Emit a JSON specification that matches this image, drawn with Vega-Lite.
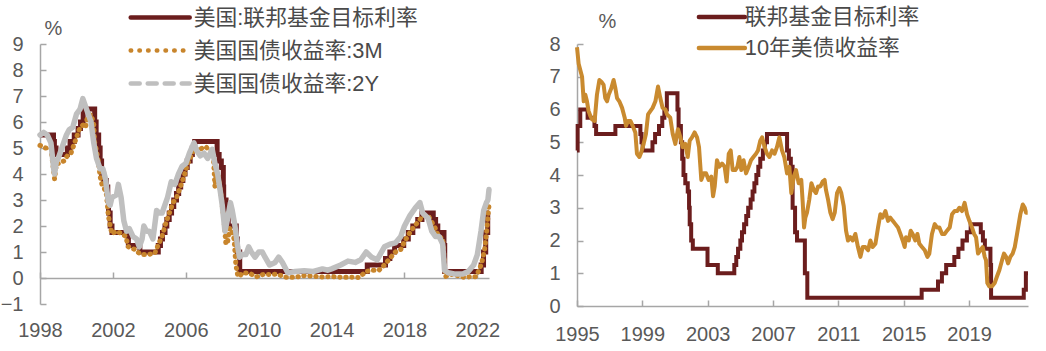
{
  "$schema": "https://vega.github.io/schema/vega-lite/v6.json",
  "padding": {"left": 0, "top": 5, "right": 0, "bottom": 0},
  "background": "white",
  "spacing": 48,
  "config": {
    "view": {"stroke": null},
    "font": "Liberation Sans, Noto Sans CJK SC",
    "axis": {"labelFont": "Liberation Sans", "labelFontSize": 20, "labelColor": "#595959", "domainColor": "#A6A6A6", "tickColor": "#A6A6A6", "domainWidth": 1.5, "tickWidth": 1.5, "grid": false, "tickSize": -6, "titleFont": "Liberation Sans", "titleFontSize": 20, "titleColor": "#595959", "titleFontWeight": "normal", "labelFlush": false, "labelOverlap": false},
    "legend": {"labelFont": "Liberation Sans, Noto Sans CJK SC", "labelFontSize": 21.8, "labelColor": "#4a4a4a", "padding": 0, "title": null}
  },
  "datasets": {
    "left": [
      {"s": "美国:联邦基金目标利率", "t": 1998.0, "v": 5.5},
      {"s": "美国:联邦基金目标利率", "t": 1998.74, "v": 5.25},
      {"s": "美国:联邦基金目标利率", "t": 1998.79, "v": 5.0},
      {"s": "美国:联邦基金目标利率", "t": 1998.88, "v": 4.75},
      {"s": "美国:联邦基金目标利率", "t": 1999.5, "v": 5.0},
      {"s": "美国:联邦基金目标利率", "t": 1999.65, "v": 5.25},
      {"s": "美国:联邦基金目标利率", "t": 1999.88, "v": 5.5},
      {"s": "美国:联邦基金目标利率", "t": 2000.09, "v": 5.75},
      {"s": "美国:联邦基金目标利率", "t": 2000.22, "v": 6.0},
      {"s": "美国:联邦基金目标利率", "t": 2000.37, "v": 6.5},
      {"s": "美国:联邦基金目标利率", "t": 2001.0, "v": 6.0},
      {"s": "美国:联邦基金目标利率", "t": 2001.08, "v": 5.5},
      {"s": "美国:联邦基金目标利率", "t": 2001.22, "v": 5.0},
      {"s": "美国:联邦基金目标利率", "t": 2001.3, "v": 4.5},
      {"s": "美国:联邦基金目标利率", "t": 2001.38, "v": 4.0},
      {"s": "美国:联邦基金目标利率", "t": 2001.49, "v": 3.75},
      {"s": "美国:联邦基金目标利率", "t": 2001.64, "v": 3.5},
      {"s": "美国:联邦基金目标利率", "t": 2001.72, "v": 3.0},
      {"s": "美国:联邦基金目标利率", "t": 2001.76, "v": 2.5},
      {"s": "美国:联邦基金目标利率", "t": 2001.85, "v": 2.0},
      {"s": "美国:联邦基金目标利率", "t": 2001.95, "v": 1.75},
      {"s": "美国:联邦基金目标利率", "t": 2002.85, "v": 1.25},
      {"s": "美国:联邦基金目标利率", "t": 2003.48, "v": 1.0},
      {"s": "美国:联邦基金目标利率", "t": 2004.49, "v": 1.25},
      {"s": "美国:联邦基金目标利率", "t": 2004.61, "v": 1.5},
      {"s": "美国:联邦基金目标利率", "t": 2004.72, "v": 1.75},
      {"s": "美国:联邦基金目标利率", "t": 2004.86, "v": 2.0},
      {"s": "美国:联邦基金目标利率", "t": 2004.96, "v": 2.25},
      {"s": "美国:联邦基金目标利率", "t": 2005.09, "v": 2.5},
      {"s": "美国:联邦基金目标利率", "t": 2005.22, "v": 2.75},
      {"s": "美国:联邦基金目标利率", "t": 2005.34, "v": 3.0},
      {"s": "美国:联邦基金目标利率", "t": 2005.49, "v": 3.25},
      {"s": "美国:联邦基金目标利率", "t": 2005.61, "v": 3.5},
      {"s": "美国:联邦基金目标利率", "t": 2005.72, "v": 3.75},
      {"s": "美国:联邦基金目标利率", "t": 2005.84, "v": 4.0},
      {"s": "美国:联邦基金目标利率", "t": 2005.96, "v": 4.25},
      {"s": "美国:联邦基金目标利率", "t": 2006.08, "v": 4.5},
      {"s": "美国:联邦基金目标利率", "t": 2006.24, "v": 4.75},
      {"s": "美国:联邦基金目标利率", "t": 2006.36, "v": 5.0},
      {"s": "美国:联邦基金目标利率", "t": 2006.49, "v": 5.25},
      {"s": "美国:联邦基金目标利率", "t": 2007.72, "v": 4.75},
      {"s": "美国:联邦基金目标利率", "t": 2007.83, "v": 4.5},
      {"s": "美国:联邦基金目标利率", "t": 2007.95, "v": 4.25},
      {"s": "美国:联邦基金目标利率", "t": 2008.06, "v": 3.5},
      {"s": "美国:联邦基金目标利率", "t": 2008.08, "v": 3.0},
      {"s": "美国:联邦基金目标利率", "t": 2008.21, "v": 2.25},
      {"s": "美国:联邦基金目标利率", "t": 2008.33, "v": 2.0},
      {"s": "美国:联邦基金目标利率", "t": 2008.77, "v": 1.5},
      {"s": "美国:联邦基金目标利率", "t": 2008.83, "v": 1.0},
      {"s": "美国:联邦基金目标利率", "t": 2008.96, "v": 0.25},
      {"s": "美国:联邦基金目标利率", "t": 2015.96, "v": 0.5},
      {"s": "美国:联邦基金目标利率", "t": 2016.96, "v": 0.75},
      {"s": "美国:联邦基金目标利率", "t": 2017.2, "v": 1.0},
      {"s": "美国:联邦基金目标利率", "t": 2017.46, "v": 1.25},
      {"s": "美国:联邦基金目标利率", "t": 2017.96, "v": 1.5},
      {"s": "美国:联邦基金目标利率", "t": 2018.21, "v": 1.75},
      {"s": "美国:联邦基金目标利率", "t": 2018.46, "v": 2.0},
      {"s": "美国:联邦基金目标利率", "t": 2018.73, "v": 2.25},
      {"s": "美国:联邦基金目标利率", "t": 2018.96, "v": 2.5},
      {"s": "美国:联邦基金目标利率", "t": 2019.58, "v": 2.25},
      {"s": "美国:联邦基金目标利率", "t": 2019.71, "v": 2.0},
      {"s": "美国:联邦基金目标利率", "t": 2019.83, "v": 1.75},
      {"s": "美国:联邦基金目标利率", "t": 2020.17, "v": 1.25},
      {"s": "美国:联邦基金目标利率", "t": 2020.21, "v": 0.25},
      {"s": "美国:联邦基金目标利率", "t": 2022.21, "v": 0.5},
      {"s": "美国:联邦基金目标利率", "t": 2022.34, "v": 1.0},
      {"s": "美国:联邦基金目标利率", "t": 2022.46, "v": 1.75},
      {"s": "美国:联邦基金目标利率", "t": 2022.57, "v": 2.5},
      {"s": "美国:联邦基金目标利率", "t": 2022.64, "v": 2.5},

      {"s": "美国国债收益率:3M", "t": 1998.0, "v": 5.1},
      {"s": "美国国债收益率:3M", "t": 1998.3, "v": 5.0},
      {"s": "美国国债收益率:3M", "t": 1998.6, "v": 5.0},
      {"s": "美国国债收益率:3M", "t": 1998.8, "v": 3.8},
      {"s": "美国国债收益率:3M", "t": 1998.9, "v": 4.4},
      {"s": "美国国债收益率:3M", "t": 1999.0, "v": 4.4},
      {"s": "美国国债收益率:3M", "t": 1999.3, "v": 4.5},
      {"s": "美国国债收益率:3M", "t": 1999.5, "v": 4.7},
      {"s": "美国国债收益率:3M", "t": 1999.7, "v": 4.8},
      {"s": "美国国债收益率:3M", "t": 1999.9, "v": 5.2},
      {"s": "美国国债收益率:3M", "t": 2000.0, "v": 5.4},
      {"s": "美国国债收益率:3M", "t": 2000.2, "v": 5.8},
      {"s": "美国国债收益率:3M", "t": 2000.4, "v": 5.9},
      {"s": "美国国债收益率:3M", "t": 2000.5, "v": 5.8},
      {"s": "美国国债收益率:3M", "t": 2000.6, "v": 6.2},
      {"s": "美国国债收益率:3M", "t": 2000.8, "v": 6.3},
      {"s": "美国国债收益率:3M", "t": 2000.95, "v": 5.9},
      {"s": "美国国债收益率:3M", "t": 2001.0, "v": 5.2},
      {"s": "美国国债收益率:3M", "t": 2001.1, "v": 4.9},
      {"s": "美国国债收益率:3M", "t": 2001.2, "v": 4.5},
      {"s": "美国国债收益率:3M", "t": 2001.3, "v": 3.9},
      {"s": "美国国债收益率:3M", "t": 2001.4, "v": 3.6},
      {"s": "美国国债收益率:3M", "t": 2001.5, "v": 3.5},
      {"s": "美国国债收益率:3M", "t": 2001.65, "v": 3.2},
      {"s": "美国国债收益率:3M", "t": 2001.75, "v": 2.4},
      {"s": "美国国债收益率:3M", "t": 2001.85, "v": 2.0},
      {"s": "美国国债收益率:3M", "t": 2001.95, "v": 1.7},
      {"s": "美国国债收益率:3M", "t": 2002.2, "v": 1.8},
      {"s": "美国国债收益率:3M", "t": 2002.5, "v": 1.7},
      {"s": "美国国债收益率:3M", "t": 2002.7, "v": 1.6},
      {"s": "美国国债收益率:3M", "t": 2002.85, "v": 1.2},
      {"s": "美国国债收益率:3M", "t": 2003.2, "v": 1.1},
      {"s": "美国国债收益率:3M", "t": 2003.45, "v": 0.95},
      {"s": "美国国债收益率:3M", "t": 2003.6, "v": 0.9},
      {"s": "美国国债收益率:3M", "t": 2003.9, "v": 0.9},
      {"s": "美国国债收益率:3M", "t": 2004.3, "v": 0.95},
      {"s": "美国国债收益率:3M", "t": 2004.5, "v": 1.3},
      {"s": "美国国债收益率:3M", "t": 2004.7, "v": 1.6},
      {"s": "美国国债收益率:3M", "t": 2004.9, "v": 2.1},
      {"s": "美国国债收益率:3M", "t": 2005.1, "v": 2.5},
      {"s": "美国国债收益率:3M", "t": 2005.3, "v": 2.9},
      {"s": "美国国债收益率:3M", "t": 2005.5, "v": 3.1},
      {"s": "美国国债收益率:3M", "t": 2005.7, "v": 3.5},
      {"s": "美国国债收益率:3M", "t": 2005.9, "v": 3.9},
      {"s": "美国国债收益率:3M", "t": 2006.1, "v": 4.4},
      {"s": "美国国债收益率:3M", "t": 2006.3, "v": 4.7},
      {"s": "美国国债收益率:3M", "t": 2006.5, "v": 5.0},
      {"s": "美国国债收益率:3M", "t": 2006.7, "v": 4.9},
      {"s": "美国国债收益率:3M", "t": 2006.9, "v": 5.0},
      {"s": "美国国债收益率:3M", "t": 2007.1, "v": 5.05},
      {"s": "美国国债收益率:3M", "t": 2007.3, "v": 4.9},
      {"s": "美国国债收益率:3M", "t": 2007.5, "v": 4.85},
      {"s": "美国国债收益率:3M", "t": 2007.6, "v": 3.5},
      {"s": "美国国债收益率:3M", "t": 2007.65, "v": 4.0},
      {"s": "美国国债收益率:3M", "t": 2007.8, "v": 3.9},
      {"s": "美国国债收益率:3M", "t": 2007.95, "v": 3.1},
      {"s": "美国国债收益率:3M", "t": 2008.1, "v": 2.2},
      {"s": "美国国债收益率:3M", "t": 2008.2, "v": 1.3},
      {"s": "美国国债收益率:3M", "t": 2008.3, "v": 1.4},
      {"s": "美国国债收益率:3M", "t": 2008.4, "v": 1.9},
      {"s": "美国国债收益率:3M", "t": 2008.5, "v": 1.9},
      {"s": "美国国债收益率:3M", "t": 2008.65, "v": 1.5},
      {"s": "美国国债收益率:3M", "t": 2008.75, "v": 0.5},
      {"s": "美国国债收益率:3M", "t": 2008.85, "v": 0.1},
      {"s": "美国国债收益率:3M", "t": 2008.95, "v": 0.05},
      {"s": "美国国债收益率:3M", "t": 2009.1, "v": 0.2},
      {"s": "美国国债收益率:3M", "t": 2009.5, "v": 0.18},
      {"s": "美国国债收益率:3M", "t": 2009.9, "v": 0.05},
      {"s": "美国国债收益率:3M", "t": 2010.3, "v": 0.15},
      {"s": "美国国债收益率:3M", "t": 2010.7, "v": 0.13},
      {"s": "美国国债收益率:3M", "t": 2011.0, "v": 0.15},
      {"s": "美国国债收益率:3M", "t": 2011.5, "v": 0.03},
      {"s": "美国国债收益率:3M", "t": 2012.0, "v": 0.03},
      {"s": "美国国债收益率:3M", "t": 2012.5, "v": 0.09},
      {"s": "美国国债收益率:3M", "t": 2013.0, "v": 0.07},
      {"s": "美国国债收益率:3M", "t": 2013.5, "v": 0.04},
      {"s": "美国国债收益率:3M", "t": 2014.0, "v": 0.05},
      {"s": "美国国债收益率:3M", "t": 2014.5, "v": 0.03},
      {"s": "美国国债收益率:3M", "t": 2015.0, "v": 0.03},
      {"s": "美国国债收益率:3M", "t": 2015.5, "v": 0.02},
      {"s": "美国国债收益率:3M", "t": 2015.9, "v": 0.25},
      {"s": "美国国债收益率:3M", "t": 2016.2, "v": 0.3},
      {"s": "美国国债收益率:3M", "t": 2016.6, "v": 0.3},
      {"s": "美国国债收益率:3M", "t": 2016.9, "v": 0.5},
      {"s": "美国国债收益率:3M", "t": 2017.2, "v": 0.75},
      {"s": "美国国债收益率:3M", "t": 2017.5, "v": 1.0},
      {"s": "美国国债收益率:3M", "t": 2017.8, "v": 1.1},
      {"s": "美国国债收益率:3M", "t": 2018.0, "v": 1.4},
      {"s": "美国国债收益率:3M", "t": 2018.3, "v": 1.75},
      {"s": "美国国债收益率:3M", "t": 2018.5, "v": 1.95},
      {"s": "美国国债收益率:3M", "t": 2018.8, "v": 2.2},
      {"s": "美国国债收益率:3M", "t": 2019.0, "v": 2.4},
      {"s": "美国国债收益率:3M", "t": 2019.3, "v": 2.4},
      {"s": "美国国债收益率:3M", "t": 2019.5, "v": 2.15},
      {"s": "美国国债收益率:3M", "t": 2019.7, "v": 1.9},
      {"s": "美国国债收益率:3M", "t": 2019.9, "v": 1.55},
      {"s": "美国国债收益率:3M", "t": 2020.1, "v": 1.55},
      {"s": "美国国债收益率:3M", "t": 2020.2, "v": 0.5},
      {"s": "美国国债收益率:3M", "t": 2020.25, "v": 0.05},
      {"s": "美国国债收益率:3M", "t": 2020.5, "v": 0.15},
      {"s": "美国国债收益率:3M", "t": 2020.8, "v": 0.1},
      {"s": "美国国债收益率:3M", "t": 2021.0, "v": 0.08},
      {"s": "美国国债收益率:3M", "t": 2021.3, "v": 0.02},
      {"s": "美国国债收益率:3M", "t": 2021.6, "v": 0.05},
      {"s": "美国国债收益率:3M", "t": 2021.9, "v": 0.05},
      {"s": "美国国债收益率:3M", "t": 2022.1, "v": 0.3},
      {"s": "美国国债收益率:3M", "t": 2022.25, "v": 0.6},
      {"s": "美国国债收益率:3M", "t": 2022.4, "v": 1.1},
      {"s": "美国国债收益率:3M", "t": 2022.5, "v": 1.7},
      {"s": "美国国债收益率:3M", "t": 2022.6, "v": 2.5},
      {"s": "美国国债收益率:3M", "t": 2022.64, "v": 2.8},

      {"s": "美国国债收益率:2Y", "t": 1998.0, "v": 5.5},
      {"s": "美国国债收益率:2Y", "t": 1998.2, "v": 5.6},
      {"s": "美国国债收益率:2Y", "t": 1998.4, "v": 5.5},
      {"s": "美国国债收益率:2Y", "t": 1998.6, "v": 5.2},
      {"s": "美国国债收益率:2Y", "t": 1998.75, "v": 4.2},
      {"s": "美国国债收益率:2Y", "t": 1998.8, "v": 4.0},
      {"s": "美国国债收益率:2Y", "t": 1998.9, "v": 4.5},
      {"s": "美国国债收益率:2Y", "t": 1999.0, "v": 4.6},
      {"s": "美国国债收益率:2Y", "t": 1999.2, "v": 5.0},
      {"s": "美国国债收益率:2Y", "t": 1999.45, "v": 5.5},
      {"s": "美国国债收益率:2Y", "t": 1999.6, "v": 5.7},
      {"s": "美国国债收益率:2Y", "t": 1999.8, "v": 5.8},
      {"s": "美国国债收益率:2Y", "t": 2000.0, "v": 6.3},
      {"s": "美国国债收益率:2Y", "t": 2000.2, "v": 6.5},
      {"s": "美国国债收益率:2Y", "t": 2000.35, "v": 6.9},
      {"s": "美国国债收益率:2Y", "t": 2000.45, "v": 6.7},
      {"s": "美国国债收益率:2Y", "t": 2000.6, "v": 6.4},
      {"s": "美国国债收益率:2Y", "t": 2000.8, "v": 6.0},
      {"s": "美国国债收益率:2Y", "t": 2000.95, "v": 5.2},
      {"s": "美国国债收益率:2Y", "t": 2001.1, "v": 4.6},
      {"s": "美国国债收益率:2Y", "t": 2001.3, "v": 4.2},
      {"s": "美国国债收益率:2Y", "t": 2001.45, "v": 4.2},
      {"s": "美国国债收益率:2Y", "t": 2001.6, "v": 3.8},
      {"s": "美国国债收益率:2Y", "t": 2001.75, "v": 2.9},
      {"s": "美国国债收益率:2Y", "t": 2001.85, "v": 2.8},
      {"s": "美国国债收益率:2Y", "t": 2001.95, "v": 3.1},
      {"s": "美国国债收益率:2Y", "t": 2002.2, "v": 3.2},
      {"s": "美国国债收益率:2Y", "t": 2002.3, "v": 3.6},
      {"s": "美国国债收益率:2Y", "t": 2002.45, "v": 3.1},
      {"s": "美国国债收益率:2Y", "t": 2002.6, "v": 2.2},
      {"s": "美国国债收益率:2Y", "t": 2002.75, "v": 1.8},
      {"s": "美国国债收益率:2Y", "t": 2002.9, "v": 1.9},
      {"s": "美国国债收益率:2Y", "t": 2003.1, "v": 1.6},
      {"s": "美国国债收益率:2Y", "t": 2003.3, "v": 1.5},
      {"s": "美国国债收益率:2Y", "t": 2003.45, "v": 1.2},
      {"s": "美国国债收益率:2Y", "t": 2003.6, "v": 1.5},
      {"s": "美国国债收益率:2Y", "t": 2003.7, "v": 2.0},
      {"s": "美国国债收益率:2Y", "t": 2003.85, "v": 1.8},
      {"s": "美国国债收益率:2Y", "t": 2004.0, "v": 1.8},
      {"s": "美国国债收益率:2Y", "t": 2004.2, "v": 1.5},
      {"s": "美国国债收益率:2Y", "t": 2004.4, "v": 2.6},
      {"s": "美国国债收益率:2Y", "t": 2004.55, "v": 2.5},
      {"s": "美国国债收益率:2Y", "t": 2004.7, "v": 2.5},
      {"s": "美国国债收益率:2Y", "t": 2004.85, "v": 2.8},
      {"s": "美国国债收益率:2Y", "t": 2005.0, "v": 3.1},
      {"s": "美国国债收益率:2Y", "t": 2005.2, "v": 3.7},
      {"s": "美国国债收益率:2Y", "t": 2005.4, "v": 3.6},
      {"s": "美国国债收益率:2Y", "t": 2005.6, "v": 4.0},
      {"s": "美国国债收益率:2Y", "t": 2005.8, "v": 4.3},
      {"s": "美国国债收益率:2Y", "t": 2006.0, "v": 4.4},
      {"s": "美国国债收益率:2Y", "t": 2006.2, "v": 4.8},
      {"s": "美国国债收益率:2Y", "t": 2006.45, "v": 5.2},
      {"s": "美国国债收益率:2Y", "t": 2006.6, "v": 4.9},
      {"s": "美国国债收益率:2Y", "t": 2006.8, "v": 4.7},
      {"s": "美国国债收益率:2Y", "t": 2007.0, "v": 4.8},
      {"s": "美国国债收益率:2Y", "t": 2007.2, "v": 4.6},
      {"s": "美国国债收益率:2Y", "t": 2007.45, "v": 4.95},
      {"s": "美国国债收益率:2Y", "t": 2007.6, "v": 4.4},
      {"s": "美国国债收益率:2Y", "t": 2007.75, "v": 4.0},
      {"s": "美国国债收益率:2Y", "t": 2007.9, "v": 3.3},
      {"s": "美国国债收益率:2Y", "t": 2008.0, "v": 2.8},
      {"s": "美国国债收益率:2Y", "t": 2008.15, "v": 1.8},
      {"s": "美国国债收益率:2Y", "t": 2008.3, "v": 2.3},
      {"s": "美国国债收益率:2Y", "t": 2008.45, "v": 2.9},
      {"s": "美国国债收益率:2Y", "t": 2008.55, "v": 2.6},
      {"s": "美国国债收益率:2Y", "t": 2008.7, "v": 2.0},
      {"s": "美国国债收益率:2Y", "t": 2008.85, "v": 1.2},
      {"s": "美国国债收益率:2Y", "t": 2008.95, "v": 0.8},
      {"s": "美国国债收益率:2Y", "t": 2009.1, "v": 0.9},
      {"s": "美国国债收益率:2Y", "t": 2009.3, "v": 0.9},
      {"s": "美国国债收益率:2Y", "t": 2009.45, "v": 1.2},
      {"s": "美国国债收益率:2Y", "t": 2009.6, "v": 1.0},
      {"s": "美国国债收益率:2Y", "t": 2009.8, "v": 0.8},
      {"s": "美国国债收益率:2Y", "t": 2010.0, "v": 1.0},
      {"s": "美国国债收益率:2Y", "t": 2010.2, "v": 1.0},
      {"s": "美国国债收益率:2Y", "t": 2010.35, "v": 0.8},
      {"s": "美国国债收益率:2Y", "t": 2010.6, "v": 0.5},
      {"s": "美国国债收益率:2Y", "t": 2010.9, "v": 0.6},
      {"s": "美国国债收益率:2Y", "t": 2011.1, "v": 0.8},
      {"s": "美国国债收益率:2Y", "t": 2011.3, "v": 0.6},
      {"s": "美国国债收益率:2Y", "t": 2011.6, "v": 0.2},
      {"s": "美国国债收益率:2Y", "t": 2012.0, "v": 0.25},
      {"s": "美国国债收益率:2Y", "t": 2012.5, "v": 0.28},
      {"s": "美国国债收益率:2Y", "t": 2013.0, "v": 0.25},
      {"s": "美国国债收益率:2Y", "t": 2013.5, "v": 0.35},
      {"s": "美国国债收益率:2Y", "t": 2013.8, "v": 0.3},
      {"s": "美国国债收益率:2Y", "t": 2014.0, "v": 0.35},
      {"s": "美国国债收益率:2Y", "t": 2014.5, "v": 0.5},
      {"s": "美国国债收益率:2Y", "t": 2014.9, "v": 0.65},
      {"s": "美国国债收益率:2Y", "t": 2015.3, "v": 0.6},
      {"s": "美国国债收益率:2Y", "t": 2015.6, "v": 0.7},
      {"s": "美国国债收益率:2Y", "t": 2015.9, "v": 1.0},
      {"s": "美国国债收益率:2Y", "t": 2016.2, "v": 0.8},
      {"s": "美国国债收益率:2Y", "t": 2016.5, "v": 0.7},
      {"s": "美国国债收益率:2Y", "t": 2016.9, "v": 1.2},
      {"s": "美国国债收益率:2Y", "t": 2017.2, "v": 1.3},
      {"s": "美国国债收益率:2Y", "t": 2017.5, "v": 1.35},
      {"s": "美国国债收益率:2Y", "t": 2017.8, "v": 1.6},
      {"s": "美国国债收益率:2Y", "t": 2018.0, "v": 2.0},
      {"s": "美国国债收益率:2Y", "t": 2018.3, "v": 2.4},
      {"s": "美国国债收益率:2Y", "t": 2018.6, "v": 2.7},
      {"s": "美国国债收益率:2Y", "t": 2018.85, "v": 2.9},
      {"s": "美国国债收益率:2Y", "t": 2019.0, "v": 2.5},
      {"s": "美国国债收益率:2Y", "t": 2019.3, "v": 2.3},
      {"s": "美国国债收益率:2Y", "t": 2019.5, "v": 1.8},
      {"s": "美国国债收益率:2Y", "t": 2019.7, "v": 1.6},
      {"s": "美国国债收益率:2Y", "t": 2019.9, "v": 1.6},
      {"s": "美国国债收益率:2Y", "t": 2020.1, "v": 1.3},
      {"s": "美国国债收益率:2Y", "t": 2020.2, "v": 0.3},
      {"s": "美国国债收益率:2Y", "t": 2020.4, "v": 0.2},
      {"s": "美国国债收益率:2Y", "t": 2020.8, "v": 0.15},
      {"s": "美国国债收益率:2Y", "t": 2021.2, "v": 0.15},
      {"s": "美国国债收益率:2Y", "t": 2021.5, "v": 0.25},
      {"s": "美国国债收益率:2Y", "t": 2021.8, "v": 0.5},
      {"s": "美国国债收益率:2Y", "t": 2022.0, "v": 0.9},
      {"s": "美国国债收益率:2Y", "t": 2022.2, "v": 1.8},
      {"s": "美国国债收益率:2Y", "t": 2022.35, "v": 2.6},
      {"s": "美国国债收益率:2Y", "t": 2022.5, "v": 2.9},
      {"s": "美国国债收益率:2Y", "t": 2022.58, "v": 3.0},
      {"s": "美国国债收益率:2Y", "t": 2022.64, "v": 3.4}
    ],
    "right": [
      {"s": "联邦基金目标利率", "t": 1995.0, "v": 4.75},
      {"s": "联邦基金目标利率", "t": 1995.04, "v": 5.5},
      {"s": "联邦基金目标利率", "t": 1995.2, "v": 6.0},
      {"s": "联邦基金目标利率", "t": 1995.65, "v": 5.75},
      {"s": "联邦基金目标利率", "t": 1996.07, "v": 5.5},
      {"s": "联邦基金目标利率", "t": 1996.17, "v": 5.25},
      {"s": "联邦基金目标利率", "t": 1997.35, "v": 5.5},
      {"s": "联邦基金目标利率", "t": 1998.88, "v": 5.25},
      {"s": "联邦基金目标利率", "t": 1998.95, "v": 5.0},
      {"s": "联邦基金目标利率", "t": 1999.02, "v": 4.75},
      {"s": "联邦基金目标利率", "t": 1999.62, "v": 5.0},
      {"s": "联邦基金目标利率", "t": 1999.78, "v": 5.25},
      {"s": "联邦基金目标利率", "t": 2000.02, "v": 5.5},
      {"s": "联邦基金目标利率", "t": 2000.22, "v": 5.75},
      {"s": "联邦基金目标利率", "t": 2000.35, "v": 6.0},
      {"s": "联邦基金目标利率", "t": 2000.5, "v": 6.5},
      {"s": "联邦基金目标利率", "t": 2001.15, "v": 6.0},
      {"s": "联邦基金目标利率", "t": 2001.22, "v": 5.5},
      {"s": "联邦基金目标利率", "t": 2001.36, "v": 5.0},
      {"s": "联邦基金目标利率", "t": 2001.44, "v": 4.5},
      {"s": "联邦基金目标利率", "t": 2001.52, "v": 4.0},
      {"s": "联邦基金目标利率", "t": 2001.63, "v": 3.75},
      {"s": "联邦基金目标利率", "t": 2001.78, "v": 3.5},
      {"s": "联邦基金目标利率", "t": 2001.86, "v": 3.0},
      {"s": "联邦基金目标利率", "t": 2001.9, "v": 2.5},
      {"s": "联邦基金目标利率", "t": 2001.99, "v": 2.0},
      {"s": "联邦基金目标利率", "t": 2002.09, "v": 1.75},
      {"s": "联邦基金目标利率", "t": 2002.99, "v": 1.25},
      {"s": "联邦基金目标利率", "t": 2003.62, "v": 1.0},
      {"s": "联邦基金目标利率", "t": 2004.63, "v": 1.25},
      {"s": "联邦基金目标利率", "t": 2004.75, "v": 1.5},
      {"s": "联邦基金目标利率", "t": 2004.86, "v": 1.75},
      {"s": "联邦基金目标利率", "t": 2005.0, "v": 2.0},
      {"s": "联邦基金目标利率", "t": 2005.1, "v": 2.25},
      {"s": "联邦基金目标利率", "t": 2005.23, "v": 2.5},
      {"s": "联邦基金目标利率", "t": 2005.36, "v": 2.75},
      {"s": "联邦基金目标利率", "t": 2005.48, "v": 3.0},
      {"s": "联邦基金目标利率", "t": 2005.63, "v": 3.25},
      {"s": "联邦基金目标利率", "t": 2005.75, "v": 3.5},
      {"s": "联邦基金目标利率", "t": 2005.86, "v": 3.75},
      {"s": "联邦基金目标利率", "t": 2005.98, "v": 4.0},
      {"s": "联邦基金目标利率", "t": 2006.1, "v": 4.25},
      {"s": "联邦基金目标利率", "t": 2006.22, "v": 4.5},
      {"s": "联邦基金目标利率", "t": 2006.38, "v": 4.75},
      {"s": "联邦基金目标利率", "t": 2006.5, "v": 5.0},
      {"s": "联邦基金目标利率", "t": 2006.63, "v": 5.25},
      {"s": "联邦基金目标利率", "t": 2007.86, "v": 4.75},
      {"s": "联邦基金目标利率", "t": 2007.97, "v": 4.5},
      {"s": "联邦基金目标利率", "t": 2008.09, "v": 4.25},
      {"s": "联邦基金目标利率", "t": 2008.2, "v": 3.0},
      {"s": "联邦基金目标利率", "t": 2008.35, "v": 2.25},
      {"s": "联邦基金目标利率", "t": 2008.47, "v": 2.0},
      {"s": "联邦基金目标利率", "t": 2008.95, "v": 1.0},
      {"s": "联邦基金目标利率", "t": 2009.1, "v": 0.25},
      {"s": "联邦基金目标利率", "t": 2016.1, "v": 0.5},
      {"s": "联邦基金目标利率", "t": 2017.1, "v": 0.75},
      {"s": "联邦基金目标利率", "t": 2017.34, "v": 1.0},
      {"s": "联邦基金目标利率", "t": 2017.6, "v": 1.25},
      {"s": "联邦基金目标利率", "t": 2018.1, "v": 1.5},
      {"s": "联邦基金目标利率", "t": 2018.35, "v": 1.75},
      {"s": "联邦基金目标利率", "t": 2018.6, "v": 2.0},
      {"s": "联邦基金目标利率", "t": 2018.87, "v": 2.25},
      {"s": "联邦基金目标利率", "t": 2019.1, "v": 2.5},
      {"s": "联邦基金目标利率", "t": 2019.72, "v": 2.25},
      {"s": "联邦基金目标利率", "t": 2019.85, "v": 2.0},
      {"s": "联邦基金目标利率", "t": 2019.97, "v": 1.75},
      {"s": "联邦基金目标利率", "t": 2020.31, "v": 1.25},
      {"s": "联邦基金目标利率", "t": 2020.35, "v": 0.25},
      {"s": "联邦基金目标利率", "t": 2022.35, "v": 0.5},
      {"s": "联邦基金目标利率", "t": 2022.48, "v": 1.0},
      {"s": "联邦基金目标利率", "t": 2022.61, "v": 1.0},

      {"s": "10年美债收益率", "t": 1995.0, "v": 7.9},
      {"s": "10年美债收益率", "t": 1995.1, "v": 7.4},
      {"s": "10年美债收益率", "t": 1995.31, "v": 7.0},
      {"s": "10年美债收益率", "t": 1995.41, "v": 6.25},
      {"s": "10年美债收益率", "t": 1995.51, "v": 6.45},
      {"s": "10年美债收益率", "t": 1995.61, "v": 6.25},
      {"s": "10年美债收益率", "t": 1995.71, "v": 5.95},
      {"s": "10年美债收益率", "t": 1995.82, "v": 5.8},
      {"s": "10年美债收益率", "t": 1995.92, "v": 5.7},
      {"s": "10年美债收益率", "t": 1996.08, "v": 5.65},
      {"s": "10年美债收益率", "t": 1996.22, "v": 6.45},
      {"s": "10年美债收益率", "t": 1996.37, "v": 6.9},
      {"s": "10年美债收益率", "t": 1996.49, "v": 6.85},
      {"s": "10年美债收益率", "t": 1996.63, "v": 6.75},
      {"s": "10年美债收益率", "t": 1996.73, "v": 6.35},
      {"s": "10年美债收益率", "t": 1996.84, "v": 6.25},
      {"s": "10年美债收益率", "t": 1996.94, "v": 6.45},
      {"s": "10年美债收益率", "t": 1997.1, "v": 6.65},
      {"s": "10年美债收益率", "t": 1997.24, "v": 6.9},
      {"s": "10年美债收益率", "t": 1997.35, "v": 6.65},
      {"s": "10年美债收益率", "t": 1997.45, "v": 6.35},
      {"s": "10年美债收益率", "t": 1997.59, "v": 6.25},
      {"s": "10年美债收益率", "t": 1997.76, "v": 6.05},
      {"s": "10年美债收益率", "t": 1997.92, "v": 5.75},
      {"s": "10年美债收益率", "t": 1998.0, "v": 5.5},
      {"s": "10年美债收益率", "t": 1998.12, "v": 5.65},
      {"s": "10年美债收益率", "t": 1998.27, "v": 5.65},
      {"s": "10年美债收益率", "t": 1998.41, "v": 5.5},
      {"s": "10年美债收益率", "t": 1998.57, "v": 5.3},
      {"s": "10年美债收益率", "t": 1998.67, "v": 4.65},
      {"s": "10年美债收益率", "t": 1998.82, "v": 4.55},
      {"s": "10年美债收益率", "t": 1998.94, "v": 4.7},
      {"s": "10年美债收益率", "t": 1999.08, "v": 4.95},
      {"s": "10年美债收益率", "t": 1999.22, "v": 5.25},
      {"s": "10年美债收益率", "t": 1999.35, "v": 5.85},
      {"s": "10年美债收益率", "t": 1999.49, "v": 5.95},
      {"s": "10年美债收益率", "t": 1999.63, "v": 6.05},
      {"s": "10年美债收益率", "t": 1999.8, "v": 6.25},
      {"s": "10年美债收益率", "t": 1999.96, "v": 6.7},
      {"s": "10年美债收益率", "t": 2000.1, "v": 6.35},
      {"s": "10年美债收益率", "t": 2000.24, "v": 6.05},
      {"s": "10年美债收益率", "t": 2000.41, "v": 6.0},
      {"s": "10年美债收益率", "t": 2000.51, "v": 5.85},
      {"s": "10年美债收益率", "t": 2000.71, "v": 5.75},
      {"s": "10年美债收益率", "t": 2000.86, "v": 5.25},
      {"s": "10年美债收益率", "t": 2001.02, "v": 4.95},
      {"s": "10年美债收益率", "t": 2001.18, "v": 5.4},
      {"s": "10年美债收益率", "t": 2001.33, "v": 5.15},
      {"s": "10年美债收益率", "t": 2001.47, "v": 4.85},
      {"s": "10年美债收益率", "t": 2001.63, "v": 4.95},
      {"s": "10年美债收益率", "t": 2001.78, "v": 4.55},
      {"s": "10年美债收益率", "t": 2001.9, "v": 5.05},
      {"s": "10年美债收益率", "t": 2002.04, "v": 5.15},
      {"s": "10年美债收益率", "t": 2002.2, "v": 5.3},
      {"s": "10年美债收益率", "t": 2002.35, "v": 5.15},
      {"s": "10年美债收益率", "t": 2002.47, "v": 4.85},
      {"s": "10年美债收益率", "t": 2002.61, "v": 3.85},
      {"s": "10年美债收益率", "t": 2002.76, "v": 4.05},
      {"s": "10年美债收益率", "t": 2002.9, "v": 4.05},
      {"s": "10年美债收益率", "t": 2003.06, "v": 3.85},
      {"s": "10年美债收益率", "t": 2003.22, "v": 3.95},
      {"s": "10年美债收益率", "t": 2003.33, "v": 3.35},
      {"s": "10年美债收益率", "t": 2003.43, "v": 3.65},
      {"s": "10年美债收益率", "t": 2003.57, "v": 4.45},
      {"s": "10年美债收益率", "t": 2003.71, "v": 4.25},
      {"s": "10年美债收益率", "t": 2003.88, "v": 4.35},
      {"s": "10年美债收益率", "t": 2004.04, "v": 4.25},
      {"s": "10年美债收益率", "t": 2004.16, "v": 3.8},
      {"s": "10年美债收益率", "t": 2004.29, "v": 4.65},
      {"s": "10年美债收益率", "t": 2004.41, "v": 4.75},
      {"s": "10年美债收益率", "t": 2004.53, "v": 4.15},
      {"s": "10年美债收益率", "t": 2004.69, "v": 4.15},
      {"s": "10年美债收益率", "t": 2004.82, "v": 4.25},
      {"s": "10年美债收益率", "t": 2004.94, "v": 4.55},
      {"s": "10年美债收益率", "t": 2005.06, "v": 4.15},
      {"s": "10年美债收益率", "t": 2005.2, "v": 4.45},
      {"s": "10年美债收益率", "t": 2005.35, "v": 4.05},
      {"s": "10年美债收益率", "t": 2005.51, "v": 4.25},
      {"s": "10年美债收益率", "t": 2005.65, "v": 4.45},
      {"s": "10年美债收益率", "t": 2005.8, "v": 4.55},
      {"s": "10年美债收益率", "t": 2005.96, "v": 4.65},
      {"s": "10年美债收益率", "t": 2006.08, "v": 4.75},
      {"s": "10年美债收益率", "t": 2006.22, "v": 5.05},
      {"s": "10年美债收益率", "t": 2006.33, "v": 5.15},
      {"s": "10年美债收益率", "t": 2006.49, "v": 4.85},
      {"s": "10年美债收益率", "t": 2006.63, "v": 4.65},
      {"s": "10年美债收益率", "t": 2006.78, "v": 4.55},
      {"s": "10年美债收益率", "t": 2006.94, "v": 4.75},
      {"s": "10年美债收益率", "t": 2007.1, "v": 4.65},
      {"s": "10年美债收益率", "t": 2007.24, "v": 4.85},
      {"s": "10年美债收益率", "t": 2007.39, "v": 5.15},
      {"s": "10年美债收益率", "t": 2007.55, "v": 4.75},
      {"s": "10年美债收益率", "t": 2007.69, "v": 4.55},
      {"s": "10年美债收益率", "t": 2007.86, "v": 4.05},
      {"s": "10年美债收益率", "t": 2008.0, "v": 4.25},
      {"s": "10年美债收益率", "t": 2008.12, "v": 3.45},
      {"s": "10年美债收益率", "t": 2008.27, "v": 3.95},
      {"s": "10年美债收益率", "t": 2008.41, "v": 4.15},
      {"s": "10年美债收益率", "t": 2008.57, "v": 3.75},
      {"s": "10年美债收益率", "t": 2008.73, "v": 3.85},
      {"s": "10年美债收益率", "t": 2008.82, "v": 3.15},
      {"s": "10年美债收益率", "t": 2008.9, "v": 2.4},
      {"s": "10年美债收益率", "t": 2008.98, "v": 2.7},
      {"s": "10年美债收益率", "t": 2009.08, "v": 2.85},
      {"s": "10年美债收益率", "t": 2009.22, "v": 3.25},
      {"s": "10年美债收益率", "t": 2009.35, "v": 3.75},
      {"s": "10年美债收益率", "t": 2009.49, "v": 3.55},
      {"s": "10年美债收益率", "t": 2009.63, "v": 3.45},
      {"s": "10年美债收益率", "t": 2009.76, "v": 3.65},
      {"s": "10年美债收益率", "t": 2009.9, "v": 3.65},
      {"s": "10年美债收益率", "t": 2010.04, "v": 3.8},
      {"s": "10年美债收益率", "t": 2010.16, "v": 3.85},
      {"s": "10年美债收益率", "t": 2010.24, "v": 3.55},
      {"s": "10年美债收益率", "t": 2010.37, "v": 3.25},
      {"s": "10年美债收益率", "t": 2010.51, "v": 2.85},
      {"s": "10年美债收益率", "t": 2010.65, "v": 2.65},
      {"s": "10年美债收益率", "t": 2010.78, "v": 2.85},
      {"s": "10年美债收益率", "t": 2010.92, "v": 3.45},
      {"s": "10年美债收益率", "t": 2011.06, "v": 3.6},
      {"s": "10年美债收益率", "t": 2011.18, "v": 3.45},
      {"s": "10年美债收益率", "t": 2011.33, "v": 3.05},
      {"s": "10年美债收益率", "t": 2011.47, "v": 2.3},
      {"s": "10年美债收益率", "t": 2011.59, "v": 2.0},
      {"s": "10年美债收益率", "t": 2011.73, "v": 2.1},
      {"s": "10年美债收益率", "t": 2011.88, "v": 2.0},
      {"s": "10年美债收益率", "t": 2012.04, "v": 2.2},
      {"s": "10年美债收益率", "t": 2012.2, "v": 1.8},
      {"s": "10年美债收益率", "t": 2012.35, "v": 1.5},
      {"s": "10年美债收益率", "t": 2012.49, "v": 1.8},
      {"s": "10年美债收益率", "t": 2012.65, "v": 1.8},
      {"s": "10年美债收益率", "t": 2012.82, "v": 1.7},
      {"s": "10年美债收益率", "t": 2012.96, "v": 2.0},
      {"s": "10年美债收益率", "t": 2013.1, "v": 1.8},
      {"s": "10年美债收益率", "t": 2013.27, "v": 1.9},
      {"s": "10年美债收益率", "t": 2013.43, "v": 2.4},
      {"s": "10年美债收益率", "t": 2013.57, "v": 2.8},
      {"s": "10年美债收益率", "t": 2013.71, "v": 2.7},
      {"s": "10年美债收益率", "t": 2013.88, "v": 2.9},
      {"s": "10年美债收益率", "t": 2014.04, "v": 2.6},
      {"s": "10年美债收益率", "t": 2014.18, "v": 2.7},
      {"s": "10年美债收益率", "t": 2014.33, "v": 2.6},
      {"s": "10年美债收益率", "t": 2014.49, "v": 2.5},
      {"s": "10年美债收益率", "t": 2014.65, "v": 2.4},
      {"s": "10年美债收益率", "t": 2014.8, "v": 2.2},
      {"s": "10年美债收益率", "t": 2014.94, "v": 2.0},
      {"s": "10年美债收益率", "t": 2015.06, "v": 1.8},
      {"s": "10年美债收益率", "t": 2015.14, "v": 2.1},
      {"s": "10年美债收益率", "t": 2015.31, "v": 2.0},
      {"s": "10年美债收益率", "t": 2015.43, "v": 2.3},
      {"s": "10年美债收益率", "t": 2015.55, "v": 2.2},
      {"s": "10年美债收益率", "t": 2015.71, "v": 2.0},
      {"s": "10年美债收益率", "t": 2015.84, "v": 2.2},
      {"s": "10年美债收益率", "t": 2015.96, "v": 1.9},
      {"s": "10年美债收益率", "t": 2016.12, "v": 1.8},
      {"s": "10年美债收益率", "t": 2016.29, "v": 1.7},
      {"s": "10年美债收益率", "t": 2016.45, "v": 1.5},
      {"s": "10年美债收益率", "t": 2016.57, "v": 1.6},
      {"s": "10年美债收益率", "t": 2016.73, "v": 2.2},
      {"s": "10年美债收益率", "t": 2016.9, "v": 2.5},
      {"s": "10年美债收益率", "t": 2017.04, "v": 2.4},
      {"s": "10年美债收益率", "t": 2017.18, "v": 2.4},
      {"s": "10年美债收益率", "t": 2017.35, "v": 2.2},
      {"s": "10年美债收益率", "t": 2017.51, "v": 2.2},
      {"s": "10年美债收益率", "t": 2017.65, "v": 2.3},
      {"s": "10年美债收益率", "t": 2017.82, "v": 2.4},
      {"s": "10年美债收益率", "t": 2017.96, "v": 2.8},
      {"s": "10年美债收益率", "t": 2018.12, "v": 2.9},
      {"s": "10年美债收益率", "t": 2018.27, "v": 2.9},
      {"s": "10年美债收益率", "t": 2018.41, "v": 3.0},
      {"s": "10年美债收益率", "t": 2018.57, "v": 2.9},
      {"s": "10年美债收益率", "t": 2018.73, "v": 3.15},
      {"s": "10年美债收益率", "t": 2018.88, "v": 2.8},
      {"s": "10年美债收益率", "t": 2019.02, "v": 2.6},
      {"s": "10年美债收益率", "t": 2019.18, "v": 2.4},
      {"s": "10年美债收益率", "t": 2019.31, "v": 2.2},
      {"s": "10年美债收益率", "t": 2019.43, "v": 2.1},
      {"s": "10年美债收益率", "t": 2019.55, "v": 1.6},
      {"s": "10年美债收益率", "t": 2019.69, "v": 1.7},
      {"s": "10年美债收益率", "t": 2019.84, "v": 1.8},
      {"s": "10年美债收益率", "t": 2019.96, "v": 1.5},
      {"s": "10年美债收益率", "t": 2020.04, "v": 1.4},
      {"s": "10年美债收益率", "t": 2020.12, "v": 0.7},
      {"s": "10年美债收益率", "t": 2020.24, "v": 0.6},
      {"s": "10年美债收益率", "t": 2020.41, "v": 0.6},
      {"s": "10年美债收益率", "t": 2020.57, "v": 0.7},
      {"s": "10年美债收益率", "t": 2020.71, "v": 0.9},
      {"s": "10年美债收益率", "t": 2020.86, "v": 1.1},
      {"s": "10年美债收益率", "t": 2021.02, "v": 1.4},
      {"s": "10年美债收益率", "t": 2021.14, "v": 1.6},
      {"s": "10年美债收益率", "t": 2021.27, "v": 1.5},
      {"s": "10年美债收益率", "t": 2021.39, "v": 1.3},
      {"s": "10年美债收益率", "t": 2021.53, "v": 1.5},
      {"s": "10年美债收益率", "t": 2021.67, "v": 1.6},
      {"s": "10年美债收益率", "t": 2021.8, "v": 1.8},
      {"s": "10年美债收益率", "t": 2021.94, "v": 2.2},
      {"s": "10年美债收益率", "t": 2022.04, "v": 2.5},
      {"s": "10年美债收益率", "t": 2022.14, "v": 2.8},
      {"s": "10年美债收益率", "t": 2022.29, "v": 3.1},
      {"s": "10年美债收益率", "t": 2022.41, "v": 3.0},
      {"s": "10年美债收益率", "t": 2022.49, "v": 2.85},
      {"s": "10年美债收益率", "t": 2022.59, "v": 2.85}
    ]
  },
  "hconcat": [
    {
      "width": 449,
      "height": 260,
      "data": {"name": "left"},
      "encoding": {
        "x": {"field": "t", "type": "quantitative", "scale": {"domain": [1998, 2022.64], "nice": false, "zero": false},
              "axis": {"values": [1998, 2002, 2006, 2010, 2014, 2018, 2022], "format": "d", "title": null, "offset": -26, "labelPadding": 48}},
        "y": {"field": "v", "type": "quantitative", "scale": {"domain": [-1, 9], "nice": false, "zero": false},
              "axis": {"values": [-1, 0, 1, 2, 3, 4, 5, 6, 7, 8, 9], "title": "%", "titleAngle": 0, "titleX": 13, "titleY": -16, "titleAlign": "center", "titleBaseline": "middle", "labelPadding": 23}},
        "color": {"field": "s", "type": "nominal",
                  "scale": {"domain": ["美国:联邦基金目标利率", "美国国债收益率:3M", "美国国债收益率:2Y"], "range": ["#6B1D1D", "#C8852C", "#BFBFBF"]},
                  "legend": {"orient": "none", "legendX": 107.7, "legendY": -39, "symbolType": "M-3,0H3", "symbolSize": 387, "symbolStrokeWidth": 4.5, "labelOffset": 21, "rowPadding": 8, "labelLimit": 400, "encode": {"symbols": {"update": {"strokeCap": {"value": "round"}}}}}}
      },
      "layer": [
        {"transform": [{"filter": "datum.s === '美国:联邦基金目标利率'"}],
         "mark": {"type": "line", "interpolate": "step-after", "strokeWidth": 5}},
        {"transform": [{"filter": "datum.s === '美国国债收益率:3M'"}],
         "mark": {"type": "line", "strokeWidth": 5, "strokeCap": "round", "strokeJoin": "round", "strokeDash": [0.5, 5.5]}},
        {"transform": [{"filter": "datum.s === '美国国债收益率:2Y'"}],
         "mark": {"type": "line", "strokeWidth": 5.5, "strokeCap": "round", "strokeJoin": "round"}},
        {"transform": [{"filter": "false"}],
         "mark": {"type": "line", "strokeWidth": 4.5},
         "encoding": {
           "strokeDash": {"field": "s", "type": "nominal",
                  "scale": {"domain": ["美国:联邦基金目标利率", "美国国债收益率:3M", "美国国债收益率:2Y"], "range": [[1, 0], [0.5, 8.2], [9, 8]]},
                  "legend": {"orient": "none", "legendX": 107.7, "legendY": -39, "symbolType": "M-3,0H3", "symbolSize": 387, "symbolStrokeWidth": 4.5, "labelOffset": 21, "rowPadding": 8, "labelLimit": 400, "encode": {"symbols": {"update": {"strokeCap": {"value": "round"}}}}}}
         }}
      ]
    },
    {
      "width": 451,
      "height": 262,
      "data": {"name": "right"},
      "encoding": {
        "x": {"field": "t", "type": "quantitative", "scale": {"domain": [1995, 2022.61], "nice": false, "zero": false},
              "axis": {"values": [1995, 1999, 2003, 2007, 2011, 2015, 2019], "format": "d", "title": null, "labelPadding": 24}},
        "y": {"field": "v", "type": "quantitative", "scale": {"domain": [0, 8], "nice": false},
              "axis": {"values": [0, 1, 2, 3, 4, 5, 6, 7, 8], "title": "%", "titleAngle": 0, "titleX": 30, "titleY": -23, "titleAlign": "center", "titleBaseline": "middle", "labelPadding": 23}},
        "color": {"field": "s", "type": "nominal",
                  "scale": {"domain": ["联邦基金目标利率", "10年美债收益率"], "range": ["#6B1D1D", "#C98A2F"]},
                  "legend": {"orient": "none", "legendX": 134, "legendY": -38, "symbolType": "M-3,0H3", "symbolSize": 235, "symbolStrokeWidth": 4.5, "labelOffset": 12, "rowPadding": 8, "labelLimit": 400, "encode": {"symbols": {"update": {"strokeCap": {"value": "round"}}}}}}
      },
      "layer": [
        {"transform": [{"filter": "datum.s === '联邦基金目标利率'"}],
         "mark": {"type": "line", "interpolate": "step-after", "strokeWidth": 4}},
        {"transform": [{"filter": "datum.s !== '联邦基金目标利率'"}],
         "mark": {"type": "line", "strokeWidth": 4, "strokeJoin": "round"}}
      ]
    }
  ],
  "resolve": {"scale": {"color": "independent", "strokeDash": "independent", "x": "independent", "y": "independent"}, "legend": {"color": "independent", "strokeDash": "independent"}}
}
